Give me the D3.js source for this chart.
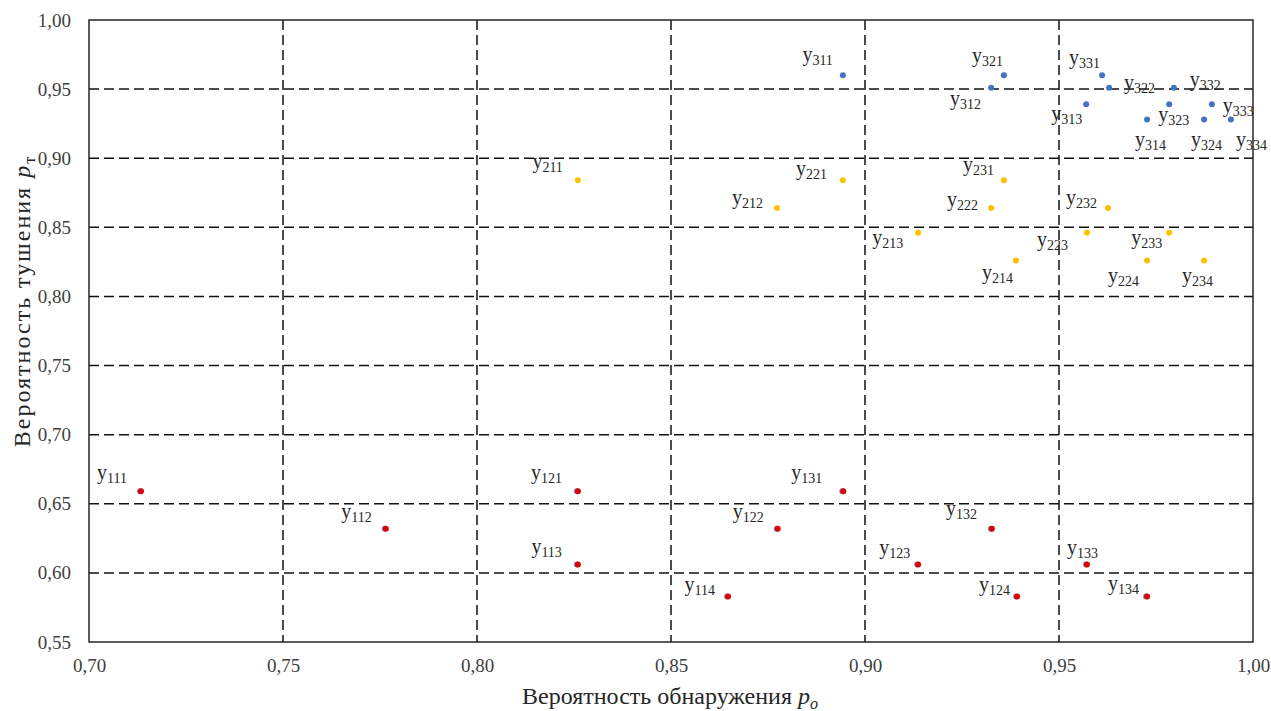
<!DOCTYPE html>
<html lang="ru">
<head>
<meta charset="UTF-8">
<title>Вероятность обнаружения и тушения</title>
<script src="https://d3js.org/d3.v7.min.js"></script>
<style>
  body { margin: 0; background: #fff; font-family: "Liberation Serif", "Times New Roman", serif; }
  .tick text { font-family: "Liberation Serif", serif; font-size: 19px; fill: #404040; }
  .grid line { stroke: #111; stroke-width: 1.5; stroke-dasharray: 10,5; }
  .lbl { font-family: "Liberation Serif", serif; fill: #262626; }
  .title { font-family: "Liberation Serif", serif; font-size: 24px; fill: #262626; }
</style>
</head>
<body>
<div id="chart"></div>
<script>
// ряд 1 (красный)
const redNames = ["111", "112", "121", "113", "114", "122", "131", "132", "123", "124", "133", "134"];
const redX     = [0.7134, 0.7765, 0.8260, 0.8260, 0.8647, 0.8775, 0.8944, 0.9327, 0.9137, 0.9392, 0.9572, 0.9727];
const redY     = [0.659, 0.632, 0.659, 0.606, 0.583, 0.632, 0.659, 0.632, 0.606, 0.583, 0.606, 0.583];

// ряд 2 (жёлтый)
const yellowNames = ["211", "221", "212", "231", "222", "213", "223", "214", "232", "233", "224", "234"];
const yellowX     = [0.8260, 0.8943, 0.8773, 0.9358, 0.9325, 0.9137, 0.9572, 0.9389, 0.9626, 0.9784, 0.9727, 0.9874];
const yellowY     = [0.884, 0.884, 0.864, 0.884, 0.864, 0.846, 0.846, 0.826, 0.864, 0.846, 0.826, 0.826];

// ряд 3 (синий)
const blueNames = ["311", "321", "312", "331", "322", "313", "332", "323", "333", "314", "324", "334"];
const blueX     = [0.8943, 0.9358, 0.9325, 0.9611, 0.9629, 0.9570, 0.9796, 0.9784, 0.9894, 0.9727, 0.9874, 0.9943];
const blueY     = [0.960, 0.960, 0.951, 0.960, 0.951, 0.939, 0.951, 0.939, 0.939, 0.928, 0.928, 0.928];

const xTicks = [0.70, 0.75, 0.80, 0.85, 0.90, 0.95, 1.00];
const yTicks = [0.55, 0.60, 0.65, 0.70, 0.75, 0.80, 0.85, 0.90, 0.95, 1.00];

// расположение подписей относительно точки: [anchor, dx, dy]
const labelPos = {
  "111": ["end", -14, -12], "112": ["end", -14, -11], "121": ["end", -16, -12], "113": ["end", -16, -12],
  "114": ["end", -13, -5],  "122": ["end", -14, -11], "131": ["end", -21, -12], "132": ["end", -15, -14],
  "123": ["end", -8, -11],  "124": ["end", -7, -5],   "133": ["start", -20, -11], "134": ["end", -8, -6],
  "211": ["end", -15, -12], "221": ["end", -16, -5],  "212": ["end", -14, -4],  "231": ["end", -10, -9],
  "222": ["end", -13, -2],  "213": ["end", -15, 11],  "223": ["end", -19, 13],  "214": ["end", -3, 18],
  "232": ["end", -11, -4],  "233": ["end", -7, 11],   "224": ["end", -8, 21],   "234": ["start", -22, 21],
  "311": ["end", -10, -14], "321": ["end", -1, -13],  "312": ["end", -10, 17],  "331": ["end", -2, -11],
  "322": ["start", 15, 1],  "313": ["end", -4, 16],   "332": ["start", 16, -2], "323": ["start", -11, 17],
  "333": ["start", 11, 8],  "314": ["start", -12, 26], "324": ["start", -13, 26], "334": ["start", 5, 26]
};

const W = 1271, H = 711;
const margin = {top: 20, right: 18, bottom: 69, left: 89};
const width = W - margin.left - margin.right,
      height = H - margin.top - margin.bottom;

const ru = d3.formatLocale({decimal: ",", thousands: " ", grouping: [3], currency: ["", " ₽"]});
const fmt = ru.format(".2f");

const svg = d3.select("#chart").append("svg")
    .attr("width", W)
    .attr("height", H);

const g = svg.append("g").attr("transform", `translate(${margin.left},${margin.top})`);

const x = d3.scaleLinear().domain([0.70, 1.00]).range([0, width]);
const y = d3.scaleLinear().domain([0.55, 1.00]).range([height, 0]);

// сетка
g.append("g").attr("class", "grid")
  .selectAll("line").data(yTicks.slice(1, -1)).join("line")
  .attr("x1", 0).attr("x2", width)
  .attr("y1", d => y(d)).attr("y2", d => y(d));
g.append("g").attr("class", "grid")
  .selectAll("line").data(xTicks.slice(1, -1)).join("line")
  .attr("y1", 0).attr("y2", height)
  .attr("x1", d => x(d)).attr("x2", d => x(d));

// рамка
g.append("rect")
  .attr("width", width).attr("height", height)
  .attr("fill", "none").attr("stroke", "#262626").attr("stroke-width", 1.5);

// оси
g.append("g")
  .attr("transform", `translate(0,${height})`)
  .call(d3.axisBottom(x).tickValues(xTicks).tickFormat(fmt).tickSize(0).tickPadding(17))
  .call(a => a.select(".domain").remove());
g.append("g")
  .call(d3.axisLeft(y).tickValues(yTicks).tickFormat(fmt).tickSize(0).tickPadding(18))
  .call(a => a.select(".domain").remove());

// подписи осей
const xt = svg.append("text").attr("class", "title")
  .attr("x", 670).attr("y", 704).attr("text-anchor", "middle");
xt.append("tspan").text("Вероятность обнаружения ");
xt.append("tspan").attr("font-style", "italic").text("p");
xt.append("tspan").attr("font-style", "italic").attr("font-size", 16).attr("dy", 5).text("о");

const yt = svg.append("text").attr("class", "title")
  .attr("letter-spacing", 2)
  .attr("transform", "translate(30,301) rotate(-90)").attr("text-anchor", "middle");
yt.append("tspan").text("Вероятность тушения ");
yt.append("tspan").attr("font-style", "italic").text("p");
yt.append("tspan").attr("font-size", 16).attr("dy", 5).text("т");

// точки
function drawSeries(names, xs, ys, color, under) {
  const pts = names.map((n, i) => ({name: n, x: xs[i], y: ys[i]}));
  if (under) {
    g.append("g").selectAll("circle").data(pts).join("circle")
      .attr("cx", d => x(d.x) - 1).attr("cy", d => y(d.y))
      .attr("r", 3).attr("fill", under);
  }
  g.append("g").selectAll("circle").data(pts).join("circle")
    .attr("cx", d => x(d.x)).attr("cy", d => y(d.y))
    .attr("r", 3).attr("fill", color);

  const lbl = g.append("g").selectAll("text").data(pts).join("text")
    .attr("class", "lbl")
    .attr("x", d => x(d.x) + labelPos[d.name][1])
    .attr("y", d => y(d.y) + labelPos[d.name][2])
    .attr("text-anchor", d => labelPos[d.name][0]);
  lbl.append("tspan").attr("font-size", 20).text("у");
  lbl.append("tspan").attr("font-size", 14).attr("dy", 4).text(d => d.name);
}

drawSeries(redNames, redX, redY, "#e00000", "#6f95d8");
drawSeries(yellowNames, yellowX, yellowY, "#ffc000");
drawSeries(blueNames, blueX, blueY, "#4472c4");
</script>
</body>
</html>
